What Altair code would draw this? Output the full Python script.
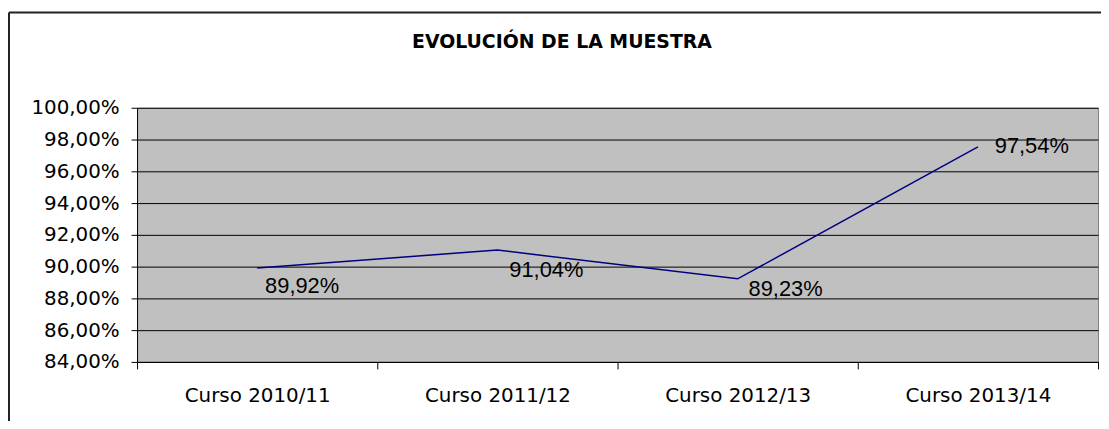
import altair as alt
import pandas as pd

cursos = ["Curso 2010/11", "Curso 2011/12", "Curso 2012/13", "Curso 2013/14"]
valores = [0.8992, 0.9104, 0.8923, 0.9754]
y_ticks = [0.84, 0.86, 0.88, 0.90, 0.92, 0.94, 0.96, 0.98, 1.00]
titulo = "EVOLUCIÓN DE LA  MUESTRA"

df = pd.DataFrame({"curso": cursos, "valor": valores})
deco = pd.DataFrame({"k": [0]})

fmt = "replace(format(datum.value, '.2%'), '.', ',')"

x_enc = alt.X(
    "curso:N",
    sort=cursos,
    bandPosition=0.5,
    scale=alt.Scale(type="band", paddingInner=0, paddingOuter=0),
    axis=alt.Axis(
        title=None, labelAngle=0, tickBand="extent", grid=False,
        domainColor="black", tickColor="black", tickSize=7, labelPadding=17,
        labelFont="DejaVu Sans", labelFontSize=20, labelColor="black",
    ),
)
y_enc = alt.Y(
    "valor:Q",
    scale=alt.Scale(domain=[0.84, 1.0], nice=False, zero=False),
    axis=alt.Axis(
        title=None, values=y_ticks, labelExpr=fmt,
        gridColor="black", gridOpacity=1, domainColor="black", tickColor="black",
        tickSize=6, labelPadding=12,
        labelFont="DejaVu Sans", labelFontSize=20, labelColor="black",
    ),
)

base = alt.Chart(df).encode(x=x_enc, y=y_enc)

line = base.mark_line(color="#000080", strokeWidth=1.5)

offsets = [(8, 18), (12, 20), (11, 10), (17, -1)]
label_layers = []
for c, (dx, dy) in zip(cursos, offsets):
    label_layers.append(
        base.transform_filter(alt.datum.curso == c)
        .transform_calculate(label="replace(format(datum.valor, '.2%'), '.', ',')")
        .mark_text(align="left", baseline="middle", dx=dx, dy=dy,
                   font="Liberation Sans", fontSize=22, color="black")
        .encode(text="label:N")
    )

title = alt.Chart(deco).mark_text(
    font="DejaVu Sans", fontWeight="bold", fontSize=19, color="black",
    align="center", baseline="middle",
).encode(x=alt.value(428), y=alt.value(-66), text=alt.value(titulo))

border_top = alt.Chart(deco).mark_rule(color="#222222", strokeWidth=2).encode(
    x=alt.value(-129), x2=alt.value(990), y=alt.value(-96)
)
border_left = alt.Chart(deco).mark_rule(color="#222222", strokeWidth=2).encode(
    x=alt.value(-129), y=alt.value(-96), y2=alt.value(340)
)

chart = alt.layer(line, *label_layers, title, border_top, border_left).properties(
    width=968,
    height=256,
    autosize=alt.AutoSizeParams(type="none"),
    padding={"left": 130, "top": 99, "right": 3, "bottom": 58},
    background="white",
).configure_view(fill="#C0C0C0", stroke="#808080")

chart.save("out.html", embed_options={"renderer": "svg", "actions": False})
